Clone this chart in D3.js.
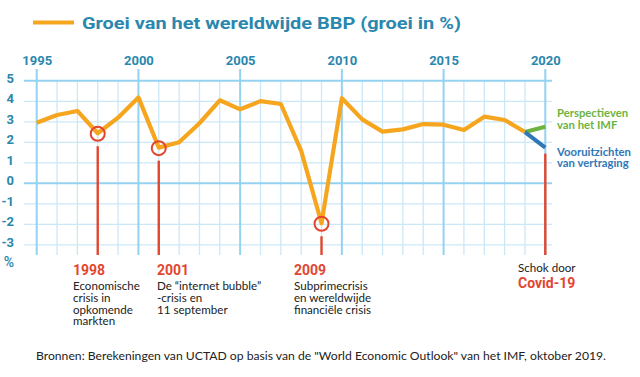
<!DOCTYPE html>
<html><head><meta charset="utf-8">
<script src="https://cdn.jsdelivr.net/npm/d3@7"></script>
<style>
body{margin:0;background:#fff;}
svg{display:block;}
</style></head>
<body><svg id="c" width="640" height="377"></svg>
<script>
const years = [1995,1996,1997,1998,1999,2000,2001,2002,2003,2004,2005,2006,2007,2008,2009,2010,2011,2012,2013,2014,2015,2016,2017,2018,2019];
const growth = [2.95,3.33,3.53,2.44,3.2,4.19,1.74,2.0,2.93,4.05,3.61,4.01,3.87,1.58,-1.95,4.15,3.12,2.52,2.63,2.89,2.86,2.6,3.25,3.09,2.5];
const scenarioYears = [2019,2020];
const imfOutlook = [2.5,2.76];
const slowdownOutlook = [2.5,1.74];
const yearTicks = [1995,2000,2005,2010,2015,2020];
const valueTicks = [5,4,3,2,1,0,-1,-2,-3];
const crisisYears = [1998,2001,2009];
const crisisLabels = ["1998","2001","2009"];
const crisisTexts = [["Economische","crisis in","opkomende","markten"],["De \u201cinternet bubble\u201d","-crisis en","11 september"],["Subprimecrisis","en wereldwijde","financi\u00eble crisis"]];
const title = "Groei van het wereldwijde BBP (groei in %)";
const source = "Bronnen: Berekeningen van UCTAD op basis van de \"World Economic Outlook\" van het IMF, oktober 2019.";

const C = {teal:"#2a87ae", orange:"#f6a61e", red:"#e2462f", green:"#6db33f", blue:"#2f77b5", gridMin:"#cbe8f8", gridMaj:"#93d2f0"};
const svg = d3.select("#c");
const x = d3.scaleLinear().domain([1995,2020]).range([36.7,545.3]);
const y = d3.scaleLinear().domain([-3,5]).range([244.8,80.8]);
const gridBottom = 255, gridLeft = 24, gridRight = 552;

// legend + title
svg.append("line").attr("x1",33).attr("x2",74).attr("y1",22.5).attr("y2",22.5)
  .attr("stroke",C.orange).attr("stroke-width",4);
svg.append("text").attr("x",82).attr("y",29).text(title)
  .attr("font-family","Roboto").attr("font-weight",700).attr("font-size",17)
  .attr("fill",C.teal).attr("textLength",379).attr("lengthAdjust","spacingAndGlyphs");

// grid
const allYears = d3.range(1995,2021);
const g = svg.append("g");
g.selectAll(".vmin").data(allYears.filter(v=>!yearTicks.includes(v))).join("line")
  .attr("x1",d=>x(d)).attr("x2",d=>x(d)).attr("y1",y(5)).attr("y2",gridBottom)
  .attr("stroke",C.gridMin).attr("stroke-width",1.3);
g.selectAll(".hmin").data(valueTicks.filter(v=>v!==0&&v!==5)).join("line")
  .attr("x1",gridLeft).attr("x2",gridRight).attr("y1",d=>y(d)).attr("y2",d=>y(d))
  .attr("stroke",C.gridMin).attr("stroke-width",1.3);
g.selectAll(".hmaj").data([0,5]).join("line")
  .attr("x1",gridLeft).attr("x2",gridRight).attr("y1",d=>y(d)).attr("y2",d=>y(d))
  .attr("stroke",C.gridMaj).attr("stroke-width",2);
g.selectAll(".vmaj").data(yearTicks).join("line")
  .attr("x1",d=>x(d)).attr("x2",d=>x(d)).attr("y1",69).attr("y2",gridBottom)
  .attr("stroke",C.gridMaj).attr("stroke-width",2);

// axes labels
const xa = svg.append("g").attr("transform","translate(0,69)")
  .call(d3.axisTop(x).tickValues(yearTicks).tickSize(0).tickPadding(4).tickFormat(d=>String(d)));
xa.select(".domain").remove();
xa.selectAll("text").attr("font-family","Roboto").attr("font-weight",700).attr("font-size",13).attr("fill",C.teal);
const ya = svg.append("g").attr("transform","translate(17,0)")
  .call(d3.axisLeft(y).tickValues(valueTicks).tickSize(0).tickPadding(3).tickFormat(d=>String(d)));
ya.select(".domain").remove();
ya.selectAll("text").attr("font-family","Roboto").attr("font-weight",700).attr("font-size",13).attr("fill",C.teal).attr("dy","0.1em");
svg.append("text").attr("x",14).attr("y",267).attr("text-anchor","end").text("%")
  .attr("font-family","Roboto").attr("font-weight",500).attr("font-size",14).attr("fill",C.teal);

// red markers
const crises = crisisYears.map((yr,i)=>({yr, v: growth[years.indexOf(yr)], label: crisisLabels[i], lines: crisisTexts[i]}));
svg.selectAll(".rl").data(crises).join("line")
  .attr("x1",d=>x(d.yr)).attr("x2",d=>x(d.yr)).attr("y1",d=>y(d.v)+13).attr("y2",gridBottom)
  .attr("stroke",C.red).attr("stroke-width",2.4);
svg.append("line").attr("x1",x(2020)).attr("x2",x(2020)).attr("y1",y(slowdownOutlook[1])+6).attr("y2",gridBottom)
  .attr("stroke",C.red).attr("stroke-width",2.4);

// main line
const line = d3.line().x(d=>x(d[0])).y(d=>y(d[1]));
svg.append("path").datum(years.map((yr,i)=>[yr,growth[i]])).attr("d",line)
  .attr("fill","none").attr("stroke",C.orange).attr("stroke-width",4.2).attr("stroke-linejoin","round");
svg.append("path").datum(scenarioYears.map((yr,i)=>[yr,imfOutlook[i]])).attr("d",line)
  .attr("fill","none").attr("stroke",C.green).attr("stroke-width",4);
svg.append("path").datum(scenarioYears.map((yr,i)=>[yr,slowdownOutlook[i]])).attr("d",line)
  .attr("fill","none").attr("stroke",C.blue).attr("stroke-width",4);

svg.selectAll(".circ").data(crises).join("circle")
  .attr("cx",d=>x(d.yr)).attr("cy",d=>y(d.v)+0.5).attr("r",7)
  .attr("fill","none").attr("stroke",C.red).attr("stroke-width",2);

// crisis labels
const labelX = [73,157,294];
crises.forEach((d,i)=>{
  svg.append("text").attr("x",labelX[i]).attr("y",275).text(d.label)
    .attr("font-family","Roboto").attr("font-weight",700).attr("font-size",14).attr("fill",C.red);
  d.lines.forEach((ln,j)=>svg.append("text").attr("x",labelX[i]).attr("y",290+j*11.8).text(ln)
    .attr("font-family","Lato").attr("font-size",11.6).attr("fill","#222"));
});
svg.append("text").attr("x",518).attr("y",271.5).text("Schok door")
  .attr("font-family","Lato").attr("font-size",11.6).attr("fill","#222");
svg.append("text").attr("x",518).attr("y",288).text("Covid-19")
  .attr("font-family","Roboto").attr("font-weight",700).attr("font-size",14).attr("fill",C.red);

// scenario labels
const sl = [["Perspectieven","van het IMF",C.green,117],["Vooruitzichten","van vertraging",C.blue,155.5]];
sl.forEach(s=>{
  svg.append("text").attr("x",557).attr("y",s[3]).text(s[0]).attr("font-family","Lato").attr("font-weight",700)
    .attr("font-size",11.3).attr("fill",s[2]);
  svg.append("text").attr("x",557).attr("y",s[3]+11.8).text(s[1]).attr("font-family","Lato").attr("font-weight",700)
    .attr("font-size",11.3).attr("fill",s[2]);
});

// source
svg.append("text").attr("x",36).attr("y",360).text(source)
  .attr("font-family","Lato").attr("font-size",11.5).attr("fill","#222")
  .attr("textLength",570).attr("lengthAdjust","spacingAndGlyphs");
</script></body></html>
